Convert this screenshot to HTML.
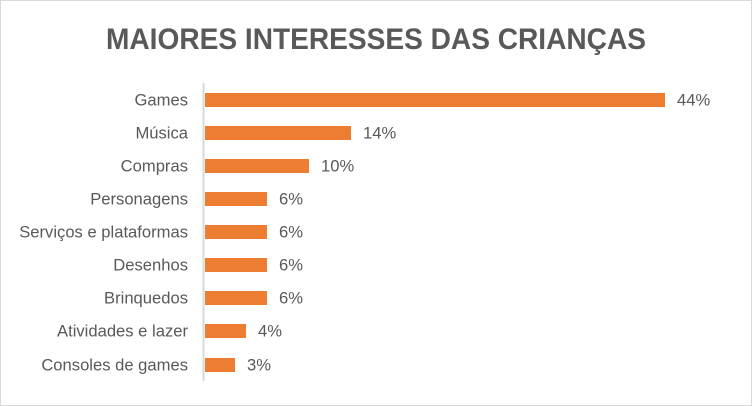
<!DOCTYPE html>
<html><head><meta charset="utf-8"><style>
html,body{margin:0;padding:0;background:#fff}
svg{display:block}
text{font-family:"Liberation Sans",sans-serif;fill:#595959}
</style></head><body>
<svg width="752" height="406" viewBox="0 0 752 406">
<rect x="0.5" y="0.5" width="751" height="405" fill="#fff" stroke="#d9d9d9"/>
<text x="376" y="49" text-anchor="middle" font-size="30" font-weight="bold" textLength="540" lengthAdjust="spacingAndGlyphs">MAIORES INTERESSES DAS CRIANÇAS</text>
<line x1="203.5" y1="83" x2="203.5" y2="381" stroke="#d9d9d9" stroke-width="2"/>
<g fill="#ed7d31">
<rect x="205" y="93" width="460" height="14"/>
<rect x="205" y="126" width="146" height="14"/>
<rect x="205" y="159" width="104" height="14"/>
<rect x="205" y="192" width="62" height="14"/>
<rect x="205" y="225" width="62" height="14"/>
<rect x="205" y="258" width="62" height="14"/>
<rect x="205" y="291" width="62" height="14"/>
<rect x="205" y="324" width="41" height="14"/>
<rect x="205" y="358" width="30" height="14"/>
</g>
<g font-size="16.6" text-anchor="end">
<text x="188" y="105.5">Games</text>
<text x="188" y="138.5">Música</text>
<text x="188" y="171.5">Compras</text>
<text x="188" y="204.5">Personagens</text>
<text x="188" y="237.5">Serviços e plataformas</text>
<text x="188" y="270.5">Desenhos</text>
<text x="188" y="303.5">Brinquedos</text>
<text x="188" y="336.5">Atividades e lazer</text>
<text x="188" y="370.5">Consoles de games</text>
</g>
<g font-size="16.6">
<text x="677" y="105.5">44%</text>
<text x="363" y="138.5">14%</text>
<text x="321" y="171.5">10%</text>
<text x="279" y="204.5">6%</text>
<text x="279" y="237.5">6%</text>
<text x="279" y="270.5">6%</text>
<text x="279" y="303.5">6%</text>
<text x="258" y="336.5">4%</text>
<text x="247" y="370.5">3%</text>
</g>
</svg>
</body></html>
